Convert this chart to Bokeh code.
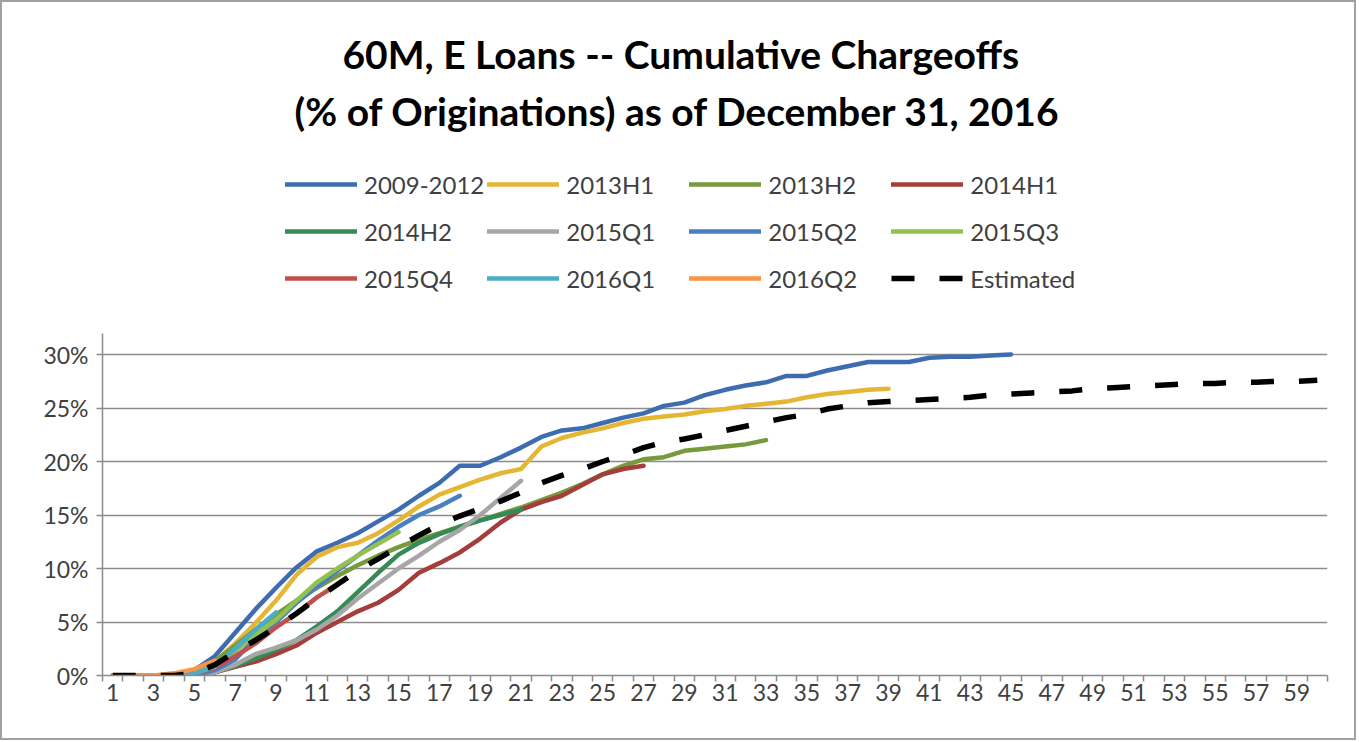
from bokeh.plotting import figure
from bokeh.models import FixedTicker, PrintfTickFormatter, Legend, LegendItem, Title, Range1d
from bokeh.embed import file_html
from bokeh.resources import INLINE

# ---------------- data ----------------
months = list(range(1, 61))
x_tick_labels = list(range(1, 60, 2))
y_ticks = [0, 5, 10, 15, 20, 25, 30]

s_2009_2012 = [0, 0, 0, 0, 0.5, 1.8, 4.0, 6.2, 8.2, 10.1,
               11.6, 12.4, 13.3, 14.4, 15.5, 16.8, 18.0, 19.6, 19.6, 20.4,
               21.3, 22.3, 22.9, 23.1, 23.6, 24.1, 24.5, 25.2, 25.5, 26.2,
               26.7, 27.1, 27.4, 28.0, 28.0, 28.5, 28.9, 29.3, 29.3, 29.3,
               29.7, 29.8, 29.8, 29.9, 30.0]
s_2013H1 = [0, 0, 0, 0, 0.3, 1.3, 3.0, 4.9, 7.0, 9.4,
            11.1, 12.0, 12.4, 13.3, 14.5, 15.8, 16.9, 17.6, 18.3, 18.9,
            19.3, 21.4, 22.2, 22.7, 23.1, 23.6, 24.0, 24.2, 24.4, 24.7,
            24.9, 25.2, 25.4, 25.6, 26.0, 26.3, 26.5, 26.7, 26.8]
s_2013H2 = [0, 0, 0, 0, 0.3, 1.3, 2.8, 4.3, 5.7, 7.0,
            8.2, 9.3, 10.3, 11.2, 12.0, 12.7, 13.3, 13.9, 14.5, 15.1,
            15.7, 16.4, 17.1, 17.9, 18.8, 19.6, 20.2, 20.4, 21.0, 21.2,
            21.4, 21.6, 22.0]
s_2014H1 = [0, 0, 0, 0, 0, 0.3, 0.8, 1.3, 2.0, 2.8,
            4.0, 5.0, 6.0, 6.8, 8.0, 9.6, 10.5, 11.5, 12.8, 14.3,
            15.5, 16.2, 16.8, 17.8, 18.8, 19.3, 19.6]
s_2014H2 = [0, 0, 0, 0, 0, 0.3, 0.9, 1.6, 2.4, 3.3,
            4.6, 6.0, 7.8, 9.6, 11.3, 12.4, 13.2, 13.9, 14.5, 15.0,
            15.5]
s_2015Q1 = [0, 0, 0, 0, 0, 0.3, 1.0, 2.0, 2.6, 3.3,
            4.3, 5.6, 7.2, 8.6, 10.0, 11.2, 12.5, 13.6, 15.0, 16.6,
            18.2]
s_2015Q2 = [0, 0, 0, 0, 0, 0.5, 1.5, 3.5, 5.0, 6.8,
            8.3, 9.8, 11.2, 12.6, 13.9, 15.0, 15.8, 16.8]
s_2015Q3 = [0, 0, 0, 0, 0.2, 0.8, 2.3, 3.8, 5.2, 7.0,
            8.7, 10.0, 11.2, 12.3, 13.4]
s_2015Q4 = [0, 0, 0, 0, 0.2, 0.7, 1.8, 3.0, 4.5, 5.8,
            7.3, 8.5]
s_2016Q1 = [0, 0, 0, 0, 0.2, 0.8, 2.5, 4.3, 5.9]
s_2016Q2 = [0, 0, 0, 0.2, 0.6, 1.4]
s_estimated = [0, 0, 0, 0, 0.2, 1.0, 2.2, 3.3, 4.5, 5.8,
               7.2, 8.5, 9.8, 10.9, 12.0, 13.1, 14.1, 14.9, 15.6, 16.3,
               17.1, 18.0, 18.7, 19.3, 20.0, 20.6, 21.3, 21.8, 22.1, 22.5,
               22.9, 23.3, 23.7, 24.1, 24.4, 24.9, 25.2, 25.5, 25.6, 25.7,
               25.8, 25.9, 26.0, 26.2, 26.3, 26.4, 26.5, 26.6, 26.8, 26.9,
               27.0, 27.1, 27.2, 27.3, 27.3, 27.4, 27.4, 27.5, 27.5, 27.6]

series_names = ["2009-2012", "2013H1", "2013H2", "2014H1",
                "2014H2", "2015Q1", "2015Q2", "2015Q3",
                "2015Q4", "2016Q1", "2016Q2", "Estimated"]
series_values = [s_2009_2012, s_2013H1, s_2013H2, s_2014H1,
                 s_2014H2, s_2015Q1, s_2015Q2, s_2015Q3,
                 s_2015Q4, s_2016Q1, s_2016Q2, s_estimated]
series_colors = ["#3D6CB0", "#E5B534", "#779A3D", "#A53D3B",
                 "#358A55", "#A6A6A6", "#4A80C2", "#92C150",
                 "#C0504D", "#4BACC6", "#F79646", "#000000"]

FONT = "Lato"
GRID = "#8C8C8C"
AXIS_MAX = 32

p = figure(width=1356, height=740, output_backend="svg", toolbar_location=None,
           x_range=Range1d(0.5, 60.5), y_range=Range1d(0, 50),
           min_border_left=100, min_border_right=31, min_border_top=138,
           min_border_bottom=67, background_fill_color="white",
           border_fill_color="white")
p.outline_line_color = None
p.styles = {"border": "2px solid #a0a0a0", "box-sizing": "border-box"}

# x axis (category axis look)
p.xaxis.ticker = FixedTicker(ticks=x_tick_labels,
                             minor_ticks=[m - 0.5 for m in months] + [months[-1] + 0.5])
p.xaxis.major_tick_line_color = None
p.xaxis.major_tick_out = 6
p.xaxis.major_tick_in = 0
p.xaxis.minor_tick_line_color = GRID
p.xaxis.minor_tick_line_width = 1.5
p.xaxis.minor_tick_out = 6
p.xaxis.minor_tick_in = 0
p.xaxis.axis_line_color = GRID
p.xaxis.axis_line_width = 1.5
p.xaxis.major_label_text_font = FONT
p.xaxis.major_label_text_font_size = "23px"
p.xaxis.major_label_text_color = "#404040"
p.xaxis.major_label_standoff = 2

# y axis
p.yaxis.ticker = FixedTicker(ticks=y_ticks)
p.yaxis.formatter = PrintfTickFormatter(format="%d%%")
p.yaxis.bounds = (0, AXIS_MAX)
p.yaxis.axis_line_color = GRID
p.yaxis.axis_line_width = 1.5
p.yaxis.major_tick_line_color = GRID
p.yaxis.major_tick_line_width = 1.5
p.yaxis.major_tick_out = 6
p.yaxis.major_tick_in = 0
p.yaxis.minor_tick_line_color = None
p.yaxis.major_label_text_font = FONT
p.yaxis.major_label_text_font_size = "23px"
p.yaxis.major_label_text_color = "#404040"
p.yaxis.major_label_standoff = 8

p.xgrid.grid_line_color = None
p.ygrid.grid_line_color = GRID
p.ygrid.grid_line_width = 1.5

items = []
for name, vals, col in zip(series_names, series_values, series_colors):
    xs = months[:len(vals)]
    if name == "Estimated":
        r = p.line(xs, vals, line_color=col, line_width=5.5, line_dash="23 25",
                   line_join="round")
    else:
        r = p.line(xs, vals, line_color=col, line_width=4.5,
                   line_join="round", line_cap="round")
    items.append(LegendItem(label=name, renderers=[r]))

legend = Legend(items=items, location=(183, 375), orientation="horizontal", ncols=4,
                glyph_width=72, glyph_height=20, label_width=120, label_height=44,
                label_standoff=7, spacing=3, padding=0, margin=0,
                border_line_color=None, background_fill_alpha=0,
                label_text_font=FONT, label_text_font_size="24px",
                label_text_color="#404040")
p.add_layout(legend, "center")

t2 = Title(text="(% of Originations) as of December 31, 2016", align="left", offset=192,
           text_font=FONT, text_font_size="39px", text_font_style="bold",
           text_color="#000000", standoff=14)
t1 = Title(text="60M, E Loans -- Cumulative Chargeoffs", align="left", offset=240,
           text_font=FONT, text_font_size="39px", text_font_style="bold",
           text_color="#000000", standoff=4)
p.add_layout(t2, "above")
p.add_layout(t1, "above")

open("out.html", "w").write(file_html(p, INLINE))
